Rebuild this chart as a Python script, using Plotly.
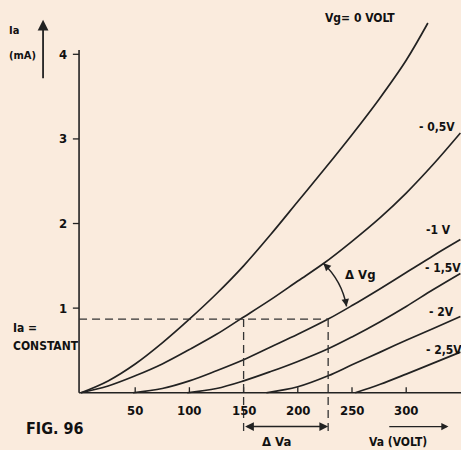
import plotly.graph_objects as go

# ---- data (Va in volt, Ia in mA) ----
vg_labels = ["Vg= 0 VOLT", "- 0,5V", "-1 V", "- 1,5V", "- 2V", "- 2,5V"]

va_0 = [0, 25, 50, 75, 100, 125, 150, 175, 200, 225, 250, 275, 300, 320]
ia_0 = [0, 0.14, 0.34, 0.59, 0.87, 1.17, 1.5, 1.87, 2.26, 2.65, 3.05, 3.47, 3.93, 4.37]

va_05 = [0, 25, 50, 75, 100, 125, 147, 175, 200, 224, 250, 276, 300, 325, 350]
ia_05 = [0, 0.08, 0.2, 0.34, 0.51, 0.69, 0.87, 1.1, 1.32, 1.53, 1.79, 2.07, 2.36, 2.7, 3.07]

va_1 = [48, 75, 100, 125, 150, 175, 200, 228, 250, 276, 300, 325, 350]
ia_1 = [0, 0.05, 0.14, 0.26, 0.39, 0.54, 0.69, 0.87, 1.03, 1.23, 1.42, 1.62, 1.81]

va_15 = [98, 125, 150, 175, 200, 228, 250, 276, 300, 325, 350]
ia_15 = [0, 0.05, 0.14, 0.25, 0.37, 0.52, 0.66, 0.84, 1.02, 1.22, 1.41]

va_2 = [171, 200, 228, 250, 276, 300, 325, 350]
ia_2 = [0, 0.07, 0.2, 0.33, 0.48, 0.62, 0.76, 0.9]

va_25 = [253, 276, 300, 325, 350]
ia_25 = [0, 0.1, 0.22, 0.35, 0.48]

x_ticks = [50, 100, 150, 200, 250, 300]
y_ticks = [1, 2, 3, 4]

ia_const = 0.87
va_left, va_right = 150, 228
dvg_top = (223.5, 1.53)
dvg_bottom = (245.0, 1.02)

INK = "#222222"
BG = "#faebdd"
FONT = "DejaVu Sans Condensed, DejaVu Sans, sans-serif"

fig = go.Figure()

series = [(va_0, ia_0), (va_05, ia_05), (va_1, ia_1), (va_15, ia_15), (va_2, ia_2), (va_25, ia_25)]
for (vx, iy), name in zip(series, vg_labels):
    fig.add_trace(go.Scatter(x=vx, y=iy, mode="lines", name=name,
                             line=dict(color=INK, width=1.7, shape="spline", smoothing=1.0),
                             showlegend=False, hoverinfo="skip"))

shapes = []
# axes
shapes.append(dict(type="line", x0=-1.8, x1=351, y0=0, y1=0, line=dict(color=INK, width=1.6)))
shapes.append(dict(type="line", x0=-1.8, x1=-1.8, y0=0, y1=4.05, line=dict(color=INK, width=1.6)))
for t in x_ticks:
    shapes.append(dict(type="line", x0=t, x1=t, y0=0, y1=0.065, line=dict(color=INK, width=1.3)))
for t in y_ticks:
    shapes.append(dict(type="line", x0=-7.5, x1=-1.8, y0=t, y1=t, line=dict(color=INK, width=1.3)))
# dashed construction lines
dash = dict(color="#333333", width=1.3, dash="8px,5px")
shapes.append(dict(type="line", x0=-1.8, x1=va_right, y0=ia_const, y1=ia_const, line=dash))
shapes.append(dict(type="line", x0=va_left, x1=va_left, y0=ia_const, y1=-0.47, line=dash))
shapes.append(dict(type="line", x0=va_right, x1=va_right, y0=ia_const, y1=-0.47, line=dash))
# curved delta-Vg arrow shaft
ctrl = (240.8, 1.318)
shapes.append(dict(type="path",
                   path=f"M {dvg_top[0]},{dvg_top[1]} Q {ctrl[0]},{ctrl[1]} {dvg_bottom[0]},{dvg_bottom[1]}",
                   line=dict(color=INK, width=1.5)))

annotations = []
tf = dict(family=FONT, size=13, color="#111111", weight="bold")
for t in x_ticks:
    annotations.append(dict(x=t, y=-0.21, text=str(t), showarrow=False, font=tf,
                            xanchor="center", yanchor="middle"))
for t in y_ticks:
    annotations.append(dict(x=-11, y=t, text=str(t), showarrow=False, font=tf,
                            xanchor="right", yanchor="middle"))

# curve labels
lab_pos = [(257, 4.43), (328.5, 3.14), (329.5, 1.92), (334, 1.47), (333, 0.95), (335, 0.505)]
for (px, py), name in zip(lab_pos, vg_labels):
    annotations.append(dict(x=px, y=py, text=name, showarrow=False, font=dict(tf, size=12),
                            xanchor="center", yanchor="middle"))

# arrowheads of the curved delta-Vg arrow
t0 = (dvg_top[0] + 0.2 * (ctrl[0] - dvg_top[0]), dvg_top[1] + 0.2 * (ctrl[1] - dvg_top[1]))
t1 = (dvg_bottom[0] + 0.2 * (ctrl[0] - dvg_bottom[0]), dvg_bottom[1] + 0.2 * (ctrl[1] - dvg_bottom[1]))

annotations += [
    dict(x=-68, y=4.28, text="Ia", showarrow=False, font=dict(tf, size=11), xanchor="left", yanchor="middle"),
    dict(x=-68, y=3.99, text="(mA)", showarrow=False, font=dict(tf, size=11), xanchor="left", yanchor="middle"),
    dict(x=-65, y=0.77, text="Ia =", showarrow=False, font=dict(tf, size=12), xanchor="left", yanchor="middle"),
    dict(x=-65, y=0.55, text="CONSTANT", showarrow=False, font=dict(tf, size=12), xanchor="left", yanchor="middle"),
    dict(x=-53, y=-0.42, text="FIG. 96", showarrow=False, font=dict(tf, size=16), xanchor="left", yanchor="middle"),
    dict(x=180, y=-0.58, text="Δ Va", showarrow=False, font=tf, xanchor="center", yanchor="middle"),
    dict(x=292, y=-0.58, text="Va (VOLT)", showarrow=False, font=dict(tf, size=12), xanchor="center", yanchor="middle"),
    dict(x=258, y=1.40, text="Δ Vg", showarrow=False, font=tf, xanchor="center", yanchor="middle"),
    # arrows
    dict(x=-35, y=4.41, ax=-35, ay=3.70, xref="x", yref="y", axref="x", ayref="y", text="",
         showarrow=True, arrowhead=2, arrowsize=1.2, arrowwidth=1.8, arrowcolor=INK),
    dict(x=va_right, y=-0.40, ax=va_left, ay=-0.40, xref="x", yref="y", axref="x", ayref="y", text="",
         showarrow=True, arrowhead=2, arrowside="end+start", arrowsize=1.1, arrowwidth=1.6, arrowcolor=INK),
    dict(x=339, y=-0.40, ax=283, ay=-0.40, xref="x", yref="y", axref="x", ayref="y", text="",
         showarrow=True, arrowhead=2, arrowsize=1.1, arrowwidth=1.3, arrowcolor=INK),
    dict(x=dvg_top[0], y=dvg_top[1], ax=t0[0], ay=t0[1], xref="x", yref="y", axref="x", ayref="y", text="",
         showarrow=True, arrowhead=2, arrowsize=1.0, arrowwidth=1.5, arrowcolor=INK),
    dict(x=dvg_bottom[0], y=dvg_bottom[1], ax=t1[0], ay=t1[1], xref="x", yref="y", axref="x", ayref="y", text="",
         showarrow=True, arrowhead=2, arrowsize=1.0, arrowwidth=1.5, arrowcolor=INK),
]

fig.update_layout(
    width=461, height=450,
    margin=dict(l=0, r=0, t=0, b=0),
    paper_bgcolor=BG, plot_bgcolor=BG,
    xaxis=dict(range=[-74.72, 350.55], visible=False, fixedrange=True),
    yaxis=dict(range=[-0.677, 4.642], visible=False, fixedrange=True),
    shapes=shapes, annotations=annotations,
    font=dict(family=FONT, color="#111111"),
)

fig.write_html("out.html", config={"displayModeBar": False},
               post_script="document.body.style.margin='0';document.body.style.overflow='hidden';")
